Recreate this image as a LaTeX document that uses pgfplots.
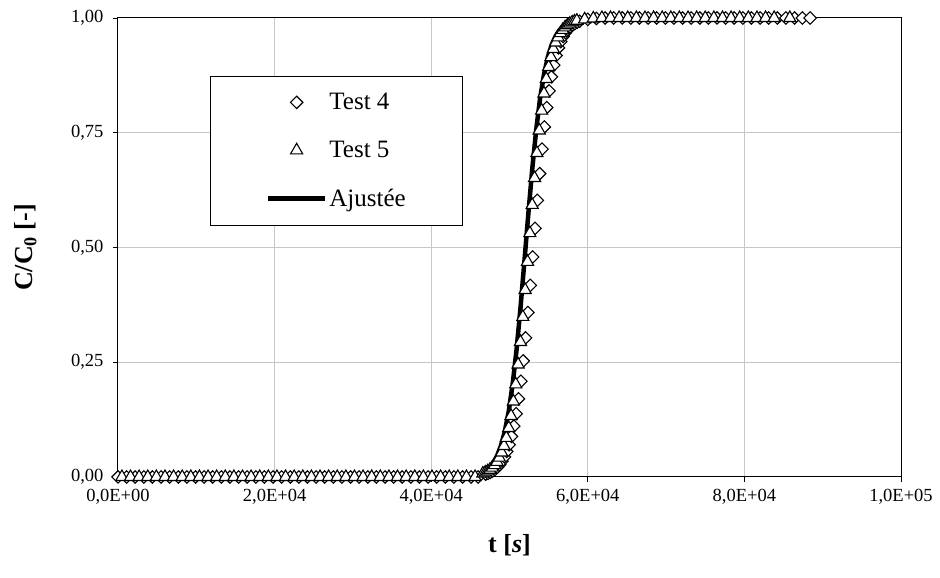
\documentclass[border=0pt]{standalone}
\usepackage{pgfplots}
\pgfplotsset{compat=1.18}
\usepackage{fontspec}
\setmainfont{Liberation Serif}
\pgfplotsset{
  fitlegend/.style={legend image code/.code={\draw[##1] (0pt,0pt) -- (57pt,0pt);}},
  marklegend/.style={legend image code/.code={\path[draw=none] (0pt,0pt) -- (57pt,0pt); \draw[##1] plot coordinates {(28.7pt,0pt)};}},
}
\begin{document}
\begin{tikzpicture}
\begin{axis}[
  scale only axis,
  width=783pt, height=459pt,
  xmin=0, xmax=100000, ymin=0, ymax=1,
  clip=false,
  xtick={0,20000,40000,60000,80000,100000},
  xticklabels={{0,0E+00},{2,0E+04},{4,0E+04},{6,0E+04},{8,0E+04},{1,0E+05}},
  ytick={0,0.25,0.5,0.75,1},
  yticklabels={{0,00},{0,25},{0,50},{0,75},{1,00}},
  scaled x ticks=false,
  xtick pos=left, ytick pos=left,
  tick align=outside,
  major tick length=5pt,
  tick style={black, line width=0.8pt},
  axis line style={black, line width=1pt},
  grid=major,
  major grid style={color=black!22, line width=1pt},
  ticklabel style={font=\fontsize{18.5}{22}\selectfont},
  xticklabel style={yshift=-4pt},
  yticklabel style={xshift=-6pt},
  xlabel={\textbf{t [\textit{s}]}},
  ylabel={\textbf{C/C\textsubscript{0} [-]}},
  every axis x label/.style={at={(axis description cs:0.5,-0.148)}, anchor=center, font=\fontsize{26}{30}\selectfont},
  every axis y label/.style={at={(axis description cs:-0.118,0.5)}, rotate=90, anchor=center, font=\fontsize{26}{30}\selectfont},
  legend style={at={(axis description cs:0.1175,0.8737)}, anchor=north west,
    draw=black, line width=0.9pt, fill=white, font=\fontsize{25}{28}\selectfont,
    inner xsep=55pt, inner ysep=15pt, row sep=26pt},
  legend cell align=left,
]
% fitted curve (drawn first, underneath markers)
\addplot[black, line width=4.5pt, forget plot] coordinates {
(0,0) (44900,0.0023) (45900,0.0059) (46400,0.0089) (46900,0.0135) (47400,0.0203)
(47900,0.0305) (48400,0.0456) (48900,0.0676) (49400,0.099) (49900,0.143)
(50400,0.202) (50900,0.277) (51400,0.368) (51900,0.469) (52400,0.572)
(52900,0.670) (53400,0.755) (53900,0.824) (54400,0.876) (54900,0.915)
(55400,0.942) (55900,0.961) (56400,0.974) (56900,0.983) (57400,0.989)
(57900,0.992) (58400,0.995) (58900,0.997) (59900,0.9986) (61900,1) (88400,1)
};
% Test 4
\addplot[only marks, marklegend, mark=square*, mark size=4.4pt, mark options={rotate=45, fill=white, draw=black, line width=1.1pt}] coordinates {
(0,0) (1100,0) (2200,0) (3300,0) (4400,0) (5500,0) (6600,0) (7700,0) (8800,0) (9900,0)
(11000,0) (12100,0) (13200,0) (14300,0) (15400,0) (16500,0) (17600,0) (18700,0) (19800,0) (20900,0)
(22000,0) (23100,0) (24200,0) (25300,0) (26400,0) (27500,0) (28600,0) (29700,0) (30800,0) (31900,0)
(33000,0) (34100,0) (35200,0) (36300,0) (37400,0) (38500,0) (39600,0) (40700,0) (41800,0) (42900,0)
(44000,0) (45100,0) (46000,0)
(46950,0.0062) (47250,0.0079) (47550,0.0101) (47850,0.0130) (48150,0.0166)
(48450,0.0212) (48750,0.0270) (49050,0.0345) (49350,0.0438) (49650,0.0556)
(49950,0.0702) (50250,0.0884) (50550,0.1107) (50850,0.1379) (51150,0.1704)
(51450,0.2086) (51750,0.2529) (52050,0.3030) (52350,0.3583) (52650,0.4175)
(52950,0.4792) (53250,0.5417) (53550,0.6028) (53850,0.6609) (54150,0.7143)
(54450,0.7627) (54750,0.8048) (55050,0.8411) (55350,0.8718) (55650,0.8973)
(55950,0.9181) (56250,0.9350) (56550,0.9487) (56850,0.9596) (57150,0.9682)
(57450,0.9751) (57750,0.9805) (58050,0.9847) (58350,0.9880) (58650,0.9907)
(58950,0.9928)
(60000,0.997) (61100,0.999) (62200,1) (63300,1) (64400,1) (65500,1) (66600,1) (67700,1)
(68800,1) (69900,1) (71000,1) (72100,1) (73200,1) (74300,1) (75400,1) (76500,1) (77600,1)
(78700,1) (79800,1) (80900,1) (82000,1) (83100,1) (84200,1) (85300,1) (86400,1) (87400,1) (88400,1)
};
\addlegendentry{Test 4}
% Test 5
\addplot[only marks, marklegend, mark=triangle*, mark size=7pt, mark options={fill=white, draw=black, line width=1.1pt}] coordinates {
(500,0) (1600,0) (2700,0) (3800,0) (4900,0) (6000,0) (7100,0) (8200,0) (9300,0) (10400,0)
(11500,0) (12600,0) (13700,0) (14800,0) (15900,0) (17000,0) (18100,0) (19200,0) (20300,0) (21400,0)
(22500,0) (23600,0) (24700,0) (25800,0) (26900,0) (28000,0) (29100,0) (30200,0) (31300,0) (32400,0)
(33500,0) (34600,0) (35700,0) (36800,0) (37900,0) (39000,0) (40100,0) (41200,0) (42300,0) (43400,0)
(44500,0) (45600,0)
(46600,0.0076) (46900,0.0097) (47200,0.0124) (47500,0.0159) (47800,0.0203)
(48100,0.0260) (48400,0.0331) (48700,0.0421) (49000,0.0534) (49300,0.0676)
(49600,0.0851) (49900,0.1067) (50200,0.1330) (50500,0.1645) (50800,0.2018)
(51100,0.2451) (51400,0.2942) (51700,0.3487) (52000,0.4073) (52300,0.4688)
(52600,0.5312) (52900,0.5927) (53200,0.6513) (53500,0.7058) (53800,0.7549)
(54100,0.7982) (54400,0.8355) (54700,0.8670) (55000,0.8933) (55300,0.9149)
(55600,0.9324) (55900,0.9466) (56200,0.9579) (56500,0.9669) (56800,0.9740)
(57100,0.9797) (57400,0.9841) (57700,0.9876) (58000,0.9903) (58300,0.9924)
(58600,0.9941)
(59600,0.997) (60700,0.999) (61800,1) (62900,1) (64000,1) (65100,1) (66200,1) (67300,1)
(68400,1) (69500,1) (70600,1) (71700,1) (72800,1) (73900,1) (75000,1) (76100,1) (77200,1)
(78300,1) (79400,1) (80500,1) (81600,1) (82700,1) (83800,1) (85800,1)
};
\addlegendentry{Test 5}
\addlegendimage{black, line width=5pt, fitlegend}
\addlegendentry{Ajustée}
\end{axis}
\pgfresetboundingbox
\path[use as bounding box] (current axis.south west) ++(-118pt,-101pt) rectangle ++(940pt,578pt);
\end{tikzpicture}
\end{document}
